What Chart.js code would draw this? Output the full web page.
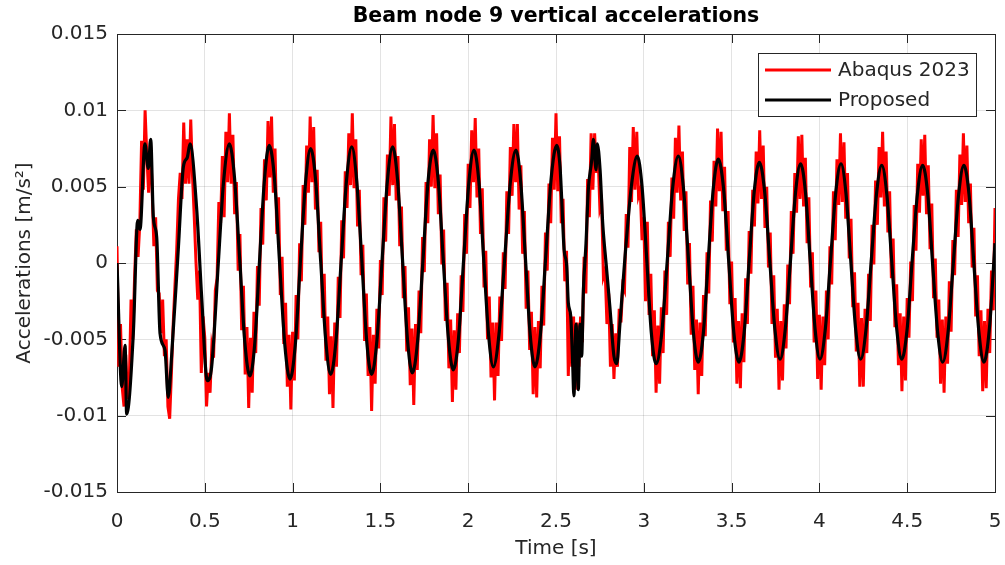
<!DOCTYPE html>
<html>
<head>
<meta charset="utf-8">
<title>Beam node 9 vertical accelerations</title>
<script src="https://cdn.jsdelivr.net/npm/chart.js@4.4.1/dist/chart.umd.min.js"></script>
<style>
  html, body { margin: 0; padding: 0; background: #fff; }
  #wrap { width: 1005px; height: 565px; }
</style>
</head>
<body>
<div id="wrap"><canvas id="accelChart" width="1005" height="565"></canvas></div>
<script>
// Labels
const chartTitle = "Beam node 9 vertical accelerations";
const xAxisTitle = "Time [s]";
const yAxisTitle = "Accelerations [m/s²]";
const seriesNames = ["Abaqus 2023", "Proposed"];
const xTickLabels = ["0", "0.5", "1", "1.5", "2", "2.5", "3", "3.5", "4", "4.5", "5"];
const yTickLabels = ["-0.015", "-0.01", "-0.005", "0", "0.005", "0.01", "0.015"];

// Abaqus 2023 signal, one value every 0.01 s from t = 0
const abaqusStep = 0.01;
const abaqusAccel = [
  0.0011, -0.0068, -0.0040, -0.0082, -0.0094, -0.0060, -0.0089, -0.0079, -0.0024, -0.0050,
  -0.0010, 0.0022, 0.0004, 0.0026, 0.0080, 0.0048, 0.0100, 0.0070, 0.0046, 0.0081,
  0.0048, 0.0011, 0.0030, -0.0018, -0.0020, -0.0046, -0.0024, -0.0061, -0.0050, -0.0094,
  -0.0102, -0.0072, -0.0040, -0.0015, 0.0009, 0.0042, 0.0059, 0.0042, 0.0092, 0.0052,
  0.0081, 0.0052, 0.0094, 0.0057, 0.0030, 0.0000, -0.0024, -0.0005, -0.0072, -0.0035,
  -0.0049, -0.0094, -0.0072, -0.0085, -0.0055, -0.0062, -0.0018, -0.0010, 0.0040, 0.0026,
  0.0070, 0.0030, 0.0086, 0.0053, 0.0098, 0.0052, 0.0084, 0.0032, 0.0053, -0.0005,
  0.0019, -0.0044, -0.0015, -0.0073, -0.0042, -0.0095, -0.0049, -0.0085, -0.0032, -0.0059,
  -0.0002, -0.0028, 0.0036, 0.0012, 0.0068, 0.0041, 0.0093, 0.0056, 0.0096, 0.0046,
  0.0075, 0.0019, 0.0043, -0.0021, 0.0004, -0.0053, -0.0026, -0.0081, -0.0047, -0.0096,
  -0.0045, -0.0077, -0.0021, -0.0050, 0.0013, -0.0012, 0.0051, 0.0025, 0.0077, 0.0046,
  0.0096, 0.0053, 0.0089, 0.0035, 0.0061, 0.0007, 0.0027, -0.0036, -0.0007, -0.0064,
  -0.0035, -0.0086, -0.0048, -0.0095, -0.0039, -0.0068, -0.0009, -0.0036, 0.0028, 0.0003,
  0.0060, 0.0036, 0.0085, 0.0051, 0.0098, 0.0049, 0.0081, 0.0024, 0.0048, -0.0008,
  0.0012, -0.0051, -0.0020, -0.0074, -0.0042, -0.0097, -0.0047, -0.0079, -0.0030, -0.0056,
  0.0002, -0.0021, 0.0043, 0.0014, 0.0071, 0.0044, 0.0096, 0.0051, 0.0091, 0.0041,
  0.0070, 0.0011, 0.0037, -0.0023, -0.0002, -0.0058, -0.0029, -0.0080, -0.0043, -0.0093,
  -0.0040, -0.0070, -0.0018, -0.0046, 0.0017, -0.0006, 0.0053, 0.0026, 0.0081, 0.0050,
  0.0097, 0.0049, 0.0085, 0.0032, 0.0058, -0.0001, 0.0022, -0.0038, -0.0013, -0.0069,
  -0.0037, -0.0091, -0.0044, -0.0083, -0.0033, -0.0059, -0.0008, -0.0032, 0.0032, 0.0006,
  0.0065, 0.0036, 0.0087, 0.0053, 0.0095, 0.0043, 0.0075, 0.0019, 0.0049, -0.0016,
  0.0008, -0.0050, -0.0022, -0.0075, -0.0039, -0.0090, -0.0039, -0.0074, -0.0022, -0.0051,
  0.0007, -0.0017, 0.0047, 0.0019, 0.0076, 0.0044, 0.0091, 0.0053, 0.0091, 0.0035,
  0.0064, 0.0006, 0.0034, -0.0030, -0.0005, -0.0057, -0.0032, -0.0086, -0.0042, -0.0088,
  -0.0038, -0.0069, -0.0015, -0.0041, 0.0020, -0.0005, 0.0052, 0.0026, 0.0082, 0.0048,
  0.0098, 0.0047, 0.0083, 0.0026, 0.0042, -0.0012, 0.0008, -0.0074, -0.0033, -0.0068,
  -0.0035, -0.0083, -0.0039, -0.0068, -0.0035, -0.0052, 0.0004, -0.0020, 0.0055, 0.0030,
  0.0085, 0.0048, 0.0085, 0.0059, 0.0070, 0.0035, 0.0039, -0.0009, -0.0005, -0.0040,
  -0.0020, -0.0068, -0.0040, -0.0076, -0.0046, -0.0068, -0.0030, -0.0039, -0.0015, -0.0018,
  0.0032, 0.0010, 0.0076, 0.0040, 0.0089, 0.0048, 0.0086, 0.0044, 0.0048, 0.0015,
  0.0030, -0.0025, 0.0027, -0.0034, -0.0007, -0.0061, -0.0031, -0.0085, -0.0041, -0.0079,
  -0.0029, -0.0059, -0.0005, -0.0034, 0.0027, 0.0004, 0.0056, 0.0029, 0.0082, 0.0046,
  0.0090, 0.0041, 0.0073, 0.0021, 0.0047, -0.0014, 0.0013, -0.0047, -0.0015, -0.0070,
  -0.0037, -0.0086, -0.0039, -0.0074, -0.0021, -0.0048, 0.0007, -0.0020, 0.0041, 0.0014,
  0.0067, 0.0037, 0.0088, 0.0047, 0.0086, 0.0034, 0.0063, 0.0008, 0.0034, -0.0027,
  0.0001, -0.0052, -0.0023, -0.0079, -0.0038, -0.0082, -0.0033, -0.0065, -0.0010, -0.0040,
  0.0021, -0.0007, 0.0048, 0.0024, 0.0073, 0.0039, 0.0087, 0.0042, 0.0077, 0.0023,
  0.0050, -0.0003, 0.0020, -0.0040, -0.0008, -0.0062, -0.0030, -0.0083, -0.0038, -0.0077,
  -0.0027, -0.0056, -0.0001, -0.0027, 0.0034, 0.0006, 0.0059, 0.0033, 0.0083, 0.0042,
  0.0084, 0.0037, 0.0069, 0.0013, 0.0043, -0.0016, 0.0007, -0.0052, -0.0018, -0.0076,
  -0.0034, -0.0083, -0.0035, -0.0067, -0.0018, -0.0050, 0.0011, -0.0014, 0.0047, 0.0015,
  0.0068, 0.0038, 0.0085, 0.0040, 0.0079, 0.0029, 0.0059, 0.0003, 0.0029, -0.0029,
  -0.0006, -0.0058, -0.0026, -0.0081, -0.0036, -0.0081, -0.0030, -0.0059, -0.0007, -0.0038,
  0.0025, -0.0001, 0.0054, 0.0025, 0.0076, 0.0043, 0.0086, 0.0037, 0.0073, 0.0020,
  0.0047, -0.0010, 0.0016, -0.0042, -0.0014, -0.0067, -0.0033, -0.0084, -0.0035, -0.0077,
  -0.0023, -0.0049, 0.0001, -0.0025, 0.0038, 0.0008, 0.0065, 0.0033, 0.0081, 0.0044,
  0.0084, 0.0032, 0.0064, 0.0009, 0.0039, -0.0023, 0.0003, -0.0049, -0.0024, -0.0079,
  -0.0037, -0.0085, -0.0035, -0.0066, -0.0012, -0.0045, 0.0015, -0.0008, 0.0048, 0.0017,
  0.0071, 0.0038, 0.0085, 0.0040, 0.0077, 0.0026, 0.0052, -0.0003, 0.0023, -0.0035,
  -0.0008, -0.0061, -0.0031, -0.0084, -0.0038, -0.0082, -0.0030, -0.0059, -0.0005, -0.0031,
  0.0036
];

// Proposed model, [time s, acceleration m/s2]
const proposedSamples = [
  [0, 0], [0.027, -0.0081], [0.046, -0.0054], [0.055, -0.0099], [0.093, -0.0046],
  [0.118, 0.0028], [0.131, 0.0022], [0.159, 0.0078], [0.178, 0.0062], [0.192, 0.0081],
  [0.207, 0.0030], [0.226, 0.0017], [0.245, -0.0046], [0.273, -0.0057], [0.292, -0.0088],
  [0.311, -0.0061], [0.349, 0.0009], [0.378, 0.0063], [0.400, 0.0069], [0.416, 0.0078],
  [0.454, 0.0035], [0.482, -0.0022], [0.514, -0.0077], [0.539, -0.0068], [0.577, 0],
  [0.606, 0.0052],
  [0.640, 0.0078], [0.669, 0.0056], [0.699, 0.0002], [0.728, -0.0052], [0.757, -0.0074],
  [0.785, -0.0052], [0.812, 0.0002], [0.840, 0.0055], [0.867, 0.0077], [0.897, 0.0055],
  [0.926, 0], [0.956, -0.0054], [0.985, -0.0076], [1.015, -0.0054], [1.044, 0],
  [1.074, 0.0053], [1.103, 0.0075], [1.132, 0.0053], [1.160, 0.0001], [1.189, -0.0051],
  [1.217, -0.0073], [1.247, -0.0051], [1.277, 0.0002], [1.307, 0.0054], [1.337, 0.0076],
  [1.365, 0.0054], [1.394, 0.0002], [1.422, -0.0051], [1.450, -0.0073], [1.480, -0.0051],
  [1.510, 0.0002], [1.540, 0.0054], [1.570, 0.0076], [1.598, 0.0054], [1.626, 0.0002],
  [1.654, -0.0050], [1.682, -0.0072], [1.712, -0.0051], [1.742, 0.0001], [1.771, 0.0053],
  [1.801, 0.0074], [1.830, 0.0053], [1.858, 0.0002], [1.887, -0.0049], [1.915, -0.0070],
  [1.945, -0.0049], [1.974, 0.0002], [2.004, 0.0053], [2.033, 0.0074], [2.061, 0.0053],
  [2.088, 0.0003], [2.116, -0.0047], [2.143, -0.0068], [2.175, -0.0047], [2.208, 0.0003],
  [2.240, 0.0053], [2.272, 0.0074], [2.299, 0.0053], [2.326, 0.0003], [2.353, -0.0047],
  [2.380, -0.0068], [2.411, -0.0047], [2.442, 0.0005], [2.473, 0.0056], [2.504, 0.0077],
  [2.523, 0.0063], [2.532, 0.0043], [2.546, 0.0009], [2.561, -0.0002], [2.570, -0.0026],
  [2.584, -0.0035], [2.595, -0.0066], [2.602, -0.0087], [2.614, -0.0040], [2.627, -0.0083],
  [2.637, -0.0040], [2.646, -0.0061], [2.656, -0.0018], [2.671, 0.0013], [2.684, 0.0048],
  [2.703, 0.0067], [2.713, 0.0081], [2.728, 0.0061], [2.735, 0.0078], [2.751, 0.0061],
  [2.766, 0.0026], [2.785, 0], [2.807, -0.0029], [2.830, -0.0061], [2.846, -0.0066],
  [2.864, -0.0040], [2.893, 0.0004], [2.931, 0.0052], [2.963, 0.0070],
  [2.990, 0.0050], [3.017, 0.0002], [3.043, -0.0046], [3.070, -0.0066], [3.102, -0.0046],
  [3.134, 0.0002], [3.165, 0.0050], [3.197, 0.0070], [3.225, 0.0050], [3.254, 0.0003],
  [3.282, -0.0045], [3.310, -0.0065], [3.339, -0.0046], [3.367, 0.0002], [3.396, 0.0049],
  [3.424, 0.0068], [3.454, 0.0049], [3.483, 0.0002], [3.513, -0.0046], [3.542, -0.0065],
  [3.571, -0.0046], [3.600, 0.0001], [3.629, 0.0047], [3.658, 0.0066], [3.688, 0.0047],
  [3.717, 0.0002], [3.747, -0.0044], [3.776, -0.0063], [3.805, -0.0044], [3.835, 0.0001],
  [3.864, 0.0046], [3.893, 0.0065], [3.921, 0.0046], [3.948, 0.0001], [3.976, -0.0044],
  [4.003, -0.0063], [4.033, -0.0044], [4.063, 0.0001], [4.093, 0.0046], [4.123, 0.0065],
  [4.151, 0.0046], [4.179, 0.0001], [4.207, -0.0044], [4.235, -0.0063], [4.265, -0.0044],
  [4.295, 0.0001], [4.325, 0.0045], [4.355, 0.0064], [4.384, 0.0045], [4.412, 0.0001],
  [4.441, -0.0044], [4.469, -0.0063], [4.499, -0.0044], [4.528, 0.0001], [4.558, 0.0045],
  [4.588, 0.0064], [4.617, 0.0045], [4.645, -0.0001], [4.674, -0.0046], [4.702, -0.0065],
  [4.732, -0.0046], [4.762, -0.0001], [4.793, 0.0045], [4.823, 0.0064], [4.852, 0.0045],
  [4.880, -0.0001], [4.909, -0.0046], [4.937, -0.0065], [4.968, -0.0043], [5.000, 0.0013]
];

const seriesColors = ["#ff0000", "#000000"];
const FONT = "'DejaVu Sans', sans-serif";
const AXIS_COLOR = "#262626";
const TICK_LEN = 9;

const axesBox = {
    id: "axesBox",
    beforeDatasetsDraw(chart) {
        const { ctx, chartArea: a, scales: { x, y } } = chart;
        ctx.save();
        ctx.strokeStyle = AXIS_COLOR;
        ctx.lineWidth = 1;
        ctx.beginPath();
        x.ticks.forEach(t => {
            const px = Math.round(x.getPixelForValue(t.value)) + 0.5;
            ctx.moveTo(px, a.bottom); ctx.lineTo(px, a.bottom - TICK_LEN);
            ctx.moveTo(px, a.top); ctx.lineTo(px, a.top + TICK_LEN);
        });
        y.ticks.forEach(t => {
            const py = Math.round(y.getPixelForValue(t.value)) + 0.5;
            ctx.moveTo(a.left, py); ctx.lineTo(a.left + TICK_LEN, py);
            ctx.moveTo(a.right, py); ctx.lineTo(a.right - TICK_LEN, py);
        });
        ctx.stroke();
        ctx.strokeRect(Math.round(a.left) + 0.5, Math.round(a.top) + 0.5,
            Math.round(a.right - a.left), Math.round(a.bottom - a.top));
        ctx.restore();
    },
    afterDraw(chart) {
        const { ctx, chartArea: a } = chart;
        ctx.save();
        // title
        ctx.fillStyle = "#000";
        ctx.font = `bold 20.5px ${FONT}`;
        ctx.textAlign = "center";
        ctx.textBaseline = "middle";
        ctx.fillText(chartTitle, (a.left + a.right) / 2, 17);

        // legend box
        const bx = a.right - 237, by = a.top + 19, bw = 218, bh = 63;
        ctx.fillStyle = "#fff";
        ctx.fillRect(bx, by, bw, bh);
        ctx.strokeStyle = AXIS_COLOR;
        ctx.lineWidth = 1;
        ctx.strokeRect(bx + 0.5, by + 0.5, bw, bh);
        ctx.font = `20px ${FONT}`;
        ctx.textAlign = "left";
        chart.data.datasets.forEach((ds, i) => {
            const ly = by + 17 + i * 30;
            ctx.strokeStyle = ds.borderColor;
            ctx.lineWidth = 3;
            ctx.beginPath();
            ctx.moveTo(bx + 7, ly);
            ctx.lineTo(bx + 73, ly);
            ctx.stroke();
            ctx.fillStyle = AXIS_COLOR;
            ctx.fillText(ds.label, bx + 80, ly + 1);
        });
        ctx.restore();
    }
};

const abaqusPoints = abaqusAccel.map((v, i) => ({ x: i * abaqusStep, y: v }));
const proposedPoints = proposedSamples.map(([t, v]) => ({ x: t, y: v }));

new Chart(document.getElementById("accelChart"), {
    type: "line",
    data: {
        datasets: [
            {
                label: seriesNames[0],
                data: abaqusPoints,
                borderColor: seriesColors[0],
                borderWidth: 3,
                pointRadius: 0,
                tension: 0,
                order: 2
            },
            {
                label: seriesNames[1],
                data: proposedPoints,
                borderColor: seriesColors[1],
                borderWidth: 3.2,
                pointRadius: 0,
                cubicInterpolationMode: "monotone",
                order: 1
            }
        ]
    },
    options: {
        responsive: false,
        animation: false,
        devicePixelRatio: 1,
        layout: { padding: { top: 34, right: 10, left: 0, bottom: 0 } },
        plugins: {
            legend: { display: false },
            title: { display: false },
            tooltip: { enabled: false }
        },
        scales: {
            x: {
                type: "linear",
                min: 0,
                max: 5,
                afterFit: s => { s.height = 73; },
                ticks: {
                    stepSize: 0.5,
                    color: AXIS_COLOR,
                    font: { family: FONT, size: 20 },
                    padding: 0,
                    maxRotation: 0,
                    callback: (v, i) => xTickLabels[i]
                },
                grid: {
                    color: "rgba(38,38,38,0.13)",
                    drawTicks: true,
                    tickLength: 18,
                    tickColor: "rgba(0,0,0,0)"
                },
                border: { display: true, color: AXIS_COLOR },
                title: {
                    display: true,
                    text: xAxisTitle,
                    color: AXIS_COLOR,
                    font: { family: FONT, size: 20 },
                    padding: { top: 0, bottom: 4 }
                }
            },
            y: {
                min: -0.015,
                max: 0.015,
                afterFit: s => { s.width = 117; },
                ticks: {
                    stepSize: 0.005,
                    color: AXIS_COLOR,
                    font: { family: FONT, size: 20 },
                    padding: 9,
                    callback: (v, i) => yTickLabels[i]
                },
                grid: { color: "rgba(38,38,38,0.13)", drawTicks: false },
                border: { display: true, color: AXIS_COLOR },
                title: {
                    display: true,
                    text: yAxisTitle,
                    color: AXIS_COLOR,
                    font: { family: FONT, size: 20 },
                    padding: { top: 13, bottom: 0 }
                }
            }
        }
    },
    plugins: [axesBox]
});
</script>
</body>
</html>
